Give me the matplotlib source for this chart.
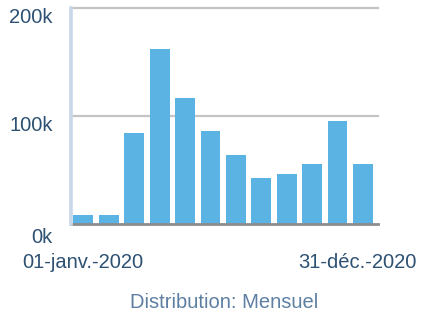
import matplotlib
matplotlib.use("Agg")
import matplotlib.pyplot as plt

months = ["Jan", "Feb", "Mar", "Apr", "May", "Jun", "Jul", "Aug", "Sep", "Oct", "Nov", "Dec"]
values = [8300, 8300, 84000, 162000, 116000, 86000, 63000, 42000, 46000, 55000, 95000, 55000]
ytick_values = [0, 100000, 200000]
ytick_labels = ["0k", "100k", "200k"]
start_label = "01-janv.-2020"
end_label = "31-déc.-2020"
caption = "Distribution: Mensuel"

plt.rcParams['font.family'] = ['Liberation Sans', 'DejaVu Sans']

W, H = 427, 317
fig = plt.figure(figsize=(W / 100, H / 100), dpi=100)
ax = fig.add_axes([71 / W, 1 - 223.5 / H, (378 - 71) / W, (223.5 - 7.5) / H])

x = list(range(len(months)))
ax.bar(x, values, width=0.78, color="#5bb3e4", zorder=2)
ax.set_xlim(-0.484, 11.59)
ax.set_ylim(0, 200000)

for s in ax.spines.values():
    s.set_visible(False)
ax.set_xticks([])
ax.set_yticks([])

# gridlines
for v in ytick_values[1:]:
    ax.axhline(v, color="#c4c4c4", lw=1.6, zorder=1, clip_on=False)
# baseline
ax.axhline(0, color="#8c8c8c", lw=2.0, zorder=3, clip_on=False)
# left axis line
ax.axvline(-0.484, color="#c8d8ea", lw=2.6, zorder=3, clip_on=False)

tick_color = "#2d5173"
offsets = {0: -14, 100000: -10, 200000: -10}
for v, lab in zip(ytick_values, ytick_labels):
    ax.annotate(lab, xy=(0, v), xycoords=('axes fraction', 'data'),
                xytext=(-18, offsets[v]), textcoords='offset pixels',
                ha='right', va='center', fontsize=14.5, color=tick_color)

fig.text(22 / W, 1 - 263 / H, start_label, ha='left', va='center', fontsize=14.5, color=tick_color)
fig.text(417 / W, 1 - 263 / H, end_label, ha='right', va='center', fontsize=14.5, color=tick_color)
fig.text(224 / W, 1 - 303 / H, caption, ha='center', va='center', fontsize=14.5, color="#5d7fa2")

fig.savefig("out.png", dpi=100)
